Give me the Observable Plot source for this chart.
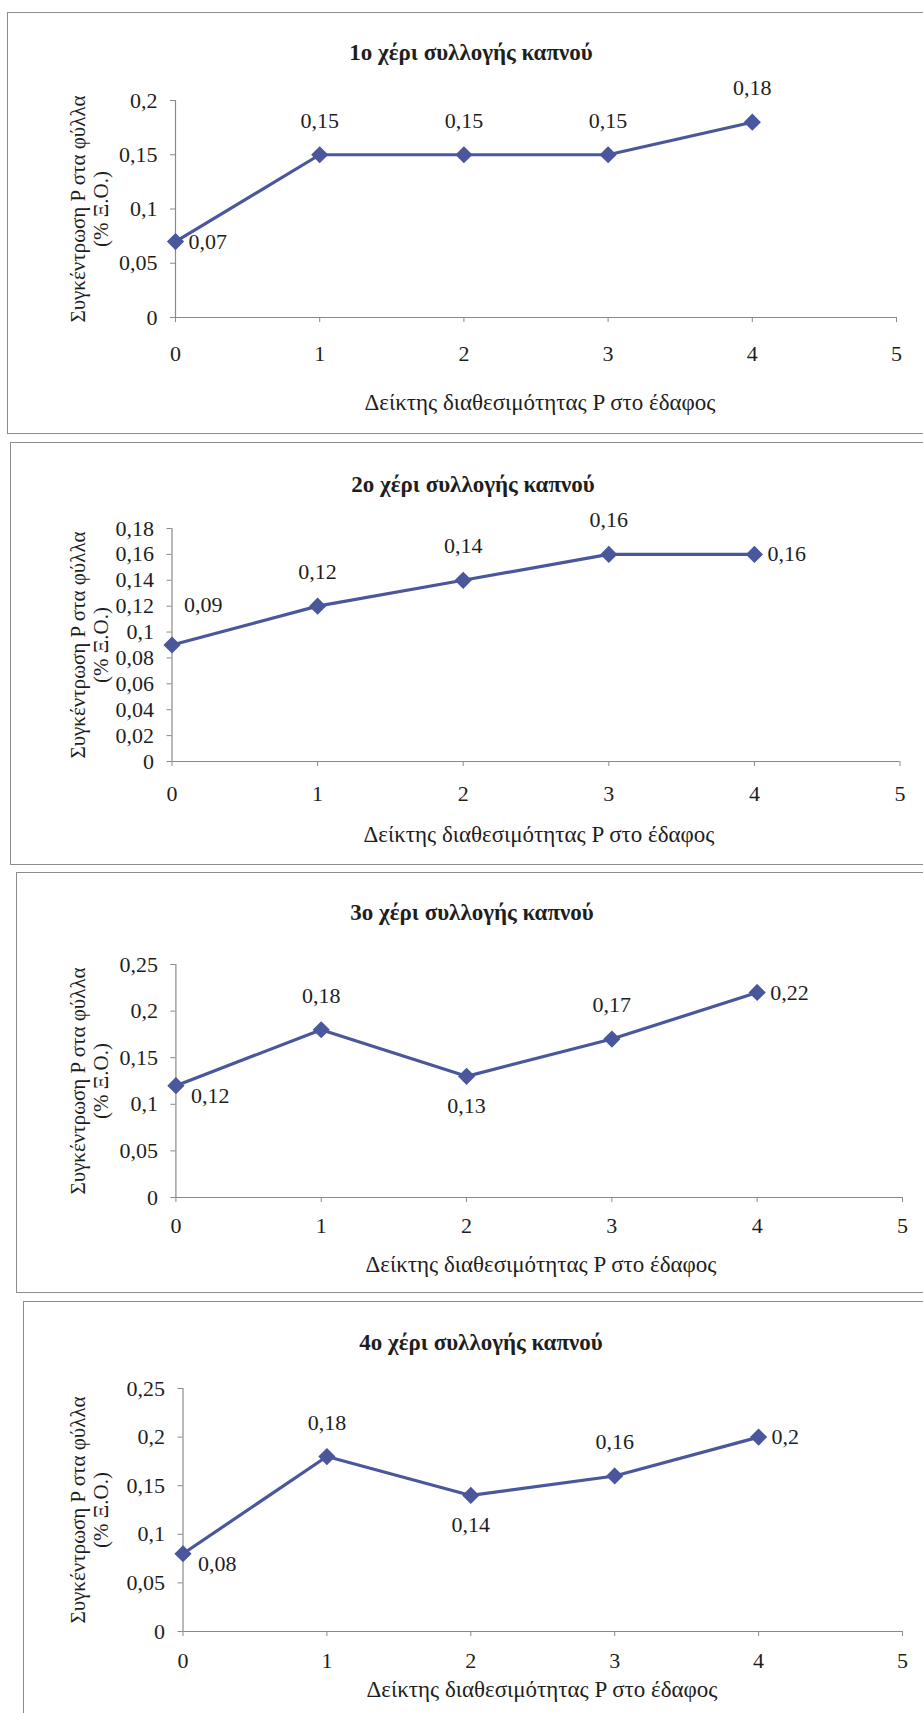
<!DOCTYPE html>
<html><head><meta charset="utf-8">
<script src="https://cdn.jsdelivr.net/npm/d3@7"></script>
<script src="https://cdn.jsdelivr.net/npm/@observablehq/plot@0.6"></script>
<style>
html,body{margin:0;padding:0;background:#fff;}
#page{position:relative;width:923px;height:1713px;overflow:hidden;background:#fff;font-family:"Liberation Serif","Times New Roman","DejaVu Serif",serif;color:#1e1e1e;}
.box{position:absolute;border:1.5px solid #8c8c8c;box-sizing:border-box;}
.title{position:absolute;font-weight:bold;font-size:23px;white-space:nowrap;transform:translate(-50%,-50%);}
.xtitle{position:absolute;font-size:23px;white-space:nowrap;transform:translate(-50%,-50%);}
</style></head><body><div id="page"></div>
<script>
// ---- data ----
const xValues = [0, 1, 2, 3, 4];
const xTicks = [0, 1, 2, 3, 4, 5];
const hand1 = [0.07, 0.15, 0.15, 0.15, 0.18];
const hand2 = [0.09, 0.12, 0.14, 0.16, 0.16];
const hand3 = [0.12, 0.18, 0.13, 0.17, 0.22];
const hand4 = [0.08, 0.18, 0.14, 0.16, 0.2];
const yTicks1 = [0, 0.05, 0.1, 0.15, 0.2];
const yTicks2 = [0, 0.02, 0.04, 0.06, 0.08, 0.1, 0.12, 0.14, 0.16, 0.18];
const yTicks3 = [0, 0.05, 0.1, 0.15, 0.2, 0.25];
const yTicks4 = [0, 0.05, 0.1, 0.15, 0.2, 0.25];
const titles = ["1ο χέρι συλλογής καπνού", "2ο χέρι συλλογής καπνού", "3ο χέρι συλλογής καπνού", "4ο χέρι συλλογής καπνού"];
const xLabel = "Δείκτης διαθεσιμότητας P στο έδαφος";
const yLabel = ["Συγκέντρωση P στα φύλλα", "(% Ξ.Ο.)"];

// ---- layout / style ----
const lineColor = "#4a579c";
const axisColor = "#8a8a8a";
const textColor = "#1e1e1e";
const fontFamily = '"Liberation Serif","Times New Roman","DejaVu Serif",serif';
const fs = 22;
const panels = [
  {values: hand1, yTicks: yTicks1, placement: ["right","above","above","above","above"],
   box:[7,12,434], axisX:175, x5:896, y0:317, yTop:100, titleX:471, titleY:53, xTickY:353, xTitleX:540, xTitleY:403},
  {values: hand2, yTicks: yTicks2, placement: ["aboveright","above","above","above","right"],
   box:[10,442,865], axisX:171.5, x5:899.5, y0:761, yTop:528, titleX:473, titleY:485, xTickY:793, xTitleX:539, xTitleY:835},
  {values: hand3, yTicks: yTicks3, placement: ["belowright","above","below","above","right"],
   box:[16,872,1293], axisX:175.4, x5:902, y0:1197, yTop:964, titleX:472, titleY:913, xTickY:1225, xTitleX:541, xTitleY:1265},
  {values: hand4, yTicks: yTicks4, placement: ["belowright","above","below","above","right"],
   box:[23,1301,1760], axisX:182.5, x5:902, y0:1631, yTop:1388, titleX:481, titleY:1343, xTickY:1660, xTitleX:542, xTitleY:1690}
];
const offsets = {
  above: {dx: 0, dy: -34, anchor: "middle"},
  below: {dx: 0, dy: 30, anchor: "middle"},
  right: {dx: 13, dy: 0, anchor: "start"},
  belowright: {dx: 15, dy: 10, anchor: "start"},
  aboveright: {dx: 12, dy: -40, anchor: "start"}
};
const fmt = d => String(d).replace(".", ",");
const page = document.getElementById("page");

panels.forEach((p, i) => {
  const box = document.createElement("div");
  box.className = "box";
  box.style.left = p.box[0] + "px";
  box.style.top = p.box[1] + "px";
  box.style.width = "1000px";
  box.style.height = (p.box[2] - p.box[1]) + "px";
  page.appendChild(box);

  const t = document.createElement("div");
  t.className = "title";
  t.textContent = titles[i];
  t.style.left = p.titleX + "px";
  t.style.top = p.titleY + "px";
  page.appendChild(t);

  const xt = document.createElement("div");
  xt.className = "xtitle";
  xt.textContent = xLabel;
  xt.style.left = p.xTitleX + "px";
  xt.style.top = p.xTitleY + "px";
  page.appendChild(xt);

  const mt = 45, mb = 60;
  const top = p.yTop - mt;
  const height = (p.y0 - p.yTop) + mt + mb;
  const ymax = p.yTicks[p.yTicks.length - 1];
  const rows = xValues.map((x, j) => ({x, v: p.values[j], pos: p.placement[j]}));
  const labelMarks = Object.entries(offsets).map(([k, o]) =>
    Plot.text(rows.filter(r => r.pos === k), {
      x: "x", y: "v", text: r => fmt(r.v), dx: o.dx, dy: o.dy,
      textAnchor: o.anchor, fontSize: fs, fill: textColor
    }));
  const tickPad = (p.xTickY - p.y0) - 0.38 * fs - 5;

  const svg = Plot.plot({
    width: 923, height,
    marginLeft: p.axisX, marginRight: 923 - p.x5, marginTop: mt, marginBottom: mb,
    style: {fontFamily, fontSize: fs + "px", background: "transparent", overflow: "visible", color: textColor},
    x: {domain: [0, 5], label: null},
    y: {domain: [0, ymax], label: null},
    marks: [
      Plot.axisX({ticks: xTicks, tickSize: 5, tickPadding: tickPad, tickFormat: fmt, stroke: axisColor, label: null}),
      Plot.axisY({ticks: p.yTicks, tickSize: 5, tickPadding: 13, tickFormat: fmt, stroke: axisColor, label: null}),
      Plot.ruleX([0], {stroke: axisColor, strokeWidth: 1.2}),
      Plot.ruleY([0], {stroke: axisColor, strokeWidth: 1.2}),
      Plot.text([yLabel.join("\n")], {frameAnchor: "left", textAnchor: "middle", lineAnchor: "middle", rotate: -90, dx: 89 - p.axisX, lineHeight: 1.1, fontSize: fs - 1, fill: textColor}),
      Plot.line(rows, {x: "x", y: "v", stroke: lineColor, strokeWidth: 3.2}),
      Plot.dot(rows, {x: "x", y: "v", symbol: "diamond2", r: 6.8, fill: lineColor, stroke: lineColor}),
      ...labelMarks
    ]
  });
  svg.style.position = "absolute";
  svg.style.left = "0px";
  svg.style.top = top + "px";
  page.appendChild(svg);
});
</script></body></html>
